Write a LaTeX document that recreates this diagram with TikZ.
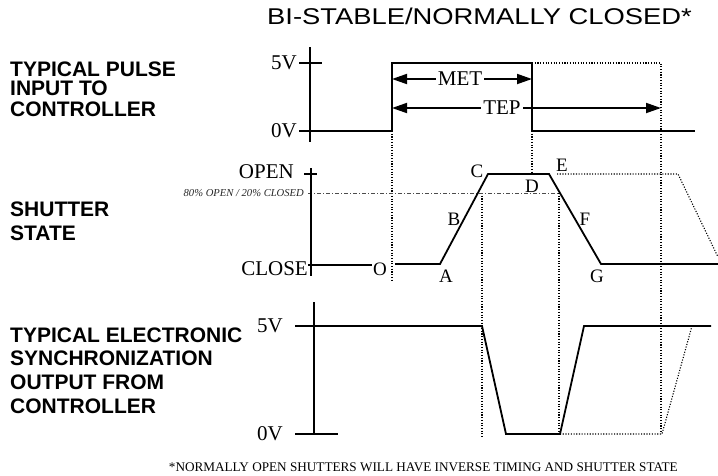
\documentclass[tikz,border=0pt]{standalone}
\usepackage{fontspec}
\setmainfont{Liberation Serif}
\setsansfont{Liberation Sans}
\usetikzlibrary{arrows.meta}
\begin{document}
\begin{tikzpicture}[x=1pt,y=-1pt,
  wave/.style={line width=1.8pt, line join=miter},
  guide/.style={line width=1.1pt, dash pattern=on 1.1pt off 1.6pt},
  level/.style={line width=0.8pt, black!70, dash pattern=on 4pt off 2pt on 1pt off 2pt},
  dim/.style={line width=1.8pt, {Triangle[length=15pt,width=10pt]}-{Triangle[length=15pt,width=10pt]}},
  blab/.style={font=\sffamily\bfseries\fontsize{21}{21}\selectfont, anchor=base west, inner sep=0pt},
  vlab/.style={font=\fontsize{21}{21}\selectfont, anchor=east, inner sep=0pt},
  plab/.style={font=\fontsize{19}{19}\selectfont, inner sep=0pt},
  dlab/.style={font=\fontsize{21}{21}\selectfont, fill=white, inner xsep=2pt, inner ysep=0pt}
]
\useasboundingbox (0,0) rectangle (718,475);

% ---------- title ----------
\node[inner sep=0pt] (title) at (479.5,16)
  {\scalebox{1.2}[1]{\sffamily\fontsize{22.8}{22.8}\selectfont BI-STABLE/NORMALLY CLOSED*}};

% ---------- left bold labels ----------
\node[blab] (l1a) at (10,76) {TYPICAL PULSE};
\node[blab] (l1b) at (10,95.5) {INPUT TO};
\node[blab] (l1c) at (10,116) {CONTROLLER};
\node[blab] (l2a) at (10,216) {SHUTTER};
\node[blab] (l2b) at (10,240) {STATE};
\node[blab] (l3a) at (10,342) {TYPICAL ELECTRONIC};
\node[blab] (l3b) at (10,365.5) {SYNCHRONIZATION};
\node[blab] (l3c) at (10,389) {OUTPUT FROM};
\node[blab] (l3d) at (10,413) {CONTROLLER};

% ---------- coordinates: pulse panel ----------
\coordinate (ax1t) at (310,47);
\coordinate (ax1b) at (310,142);
\coordinate (t5a) at (299,63);
\coordinate (t5b) at (322,63);
\coordinate (p0) at (299,131);
\coordinate (p1) at (392,131);
\coordinate (p2) at (392,63);
\coordinate (p3) at (532,63);
\coordinate (p4) at (532,131);
\coordinate (p5) at (695,131);
\coordinate (q1) at (661,63);
\coordinate (q2) at (661,433);
\coordinate (v1b) at (392,281);
\coordinate (v2b) at (532,174);
\coordinate (metL) at (392,79);
\coordinate (metR) at (532,79);
\coordinate (tepL) at (392,108);
\coordinate (tepR) at (661,108);

% ---------- coordinates: shutter panel ----------
\coordinate (ax2t) at (311,168);
\coordinate (ax2b) at (311,276);
\coordinate (toa) at (304,174);
\coordinate (tob) at (317,174);
\coordinate (s0) at (308,265);
\coordinate (s0b) at (372,265);
\coordinate (s1) at (395,264);
\coordinate (sA) at (440,264);
\coordinate (sC) at (488,174);
\coordinate (sE) at (549,174);
\coordinate (sG) at (601,264);
\coordinate (s2) at (718,264);
\coordinate (e1) at (557,174);
\coordinate (e2) at (678,174);
\coordinate (e3) at (718,257);
\coordinate (lv1) at (308,193);
\coordinate (lv2) at (560,193);
\coordinate (g1t) at (482,193);
\coordinate (g1b) at (482,438);
\coordinate (g2t) at (559,193);
\coordinate (g2b) at (559,434);

% ---------- coordinates: sync panel ----------
\coordinate (ax3t) at (314,302);
\coordinate (ax3b) at (314,434);
\coordinate (y0) at (295,326);
\coordinate (y1) at (482,326);
\coordinate (y2) at (506,434);
\coordinate (y3) at (560,434);
\coordinate (y4) at (584,326);
\coordinate (y5) at (711,326);
\coordinate (z0) at (295,434);
\coordinate (z1) at (338,434);
\coordinate (w1) at (662,434);
\coordinate (w2) at (692,326);

% ---------- guides ----------
\draw[guide] (p3) -- (q1) -- (q2);
\draw[guide] (p1) -- (v1b);
\draw[guide] (p4) -- (v2b);
\draw[guide] (e1) -- (e2) -- (e3);
\draw[guide] (g1t) -- (g1b);
\draw[guide] (g2t) -- (g2b);
\draw[guide] (y3) -- (w1) -- (w2);
\draw[level] (lv1) -- (lv2);

% ---------- pulse panel ----------
\draw[wave] (ax1t) -- (ax1b);
\draw[wave] (t5a) -- (t5b);
\draw[wave] (p0) -- (p1) -- (p2) -- (p3) -- (p4) -- (p5);
\draw[dim] (metL) -- (metR);
\draw[dim] (tepL) -- (tepR);
\node[dlab] (met) at (460,79) {MET};
\node[dlab] (tep) at (502,108) {TEP};
\node[vlab] (v5a) at (297,63) {5V};
\node[vlab] (v0a) at (297,131) {0V};

% ---------- shutter panel ----------
\draw[wave] (ax2t) -- (ax2b);
\draw[wave] (toa) -- (tob);
\draw[wave] (s0) -- (s0b);
\draw[wave] (s1) -- (sA) -- (sC) -- (sE) -- (sG) -- (s2);
\node[vlab] (open) at (294,172) {OPEN};
\node[vlab] (close) at (308,268.5) {CLOSE};
\node[vlab, font=\itshape\fontsize{10.6}{10.6}\selectfont, text=black!85] (pct) at (304,193) {80\% OPEN / 20\% CLOSED};
\node[plab] (lO) at (380,269) {O};
\node[plab] (lA) at (446,276) {A};
\node[plab] (lB) at (454,219) {B};
\node[plab] (lC) at (477,171) {C};
\node[plab] (lD) at (532,186) {D};
\node[plab] (lE) at (562,165) {E};
\node[plab] (lF) at (585,219) {F};
\node[plab] (lG) at (597,276) {G};

% ---------- sync panel ----------
\draw[wave] (ax3t) -- (ax3b);
\draw[wave] (z0) -- (z1);
\draw[wave] (y0) -- (y1) -- (y2) -- (y3) -- (y4) -- (y5);
\node[vlab] (v5b) at (283,326) {5V};
\node[vlab] (v0b) at (283,434) {0V};

% ---------- footnote ----------
\node[anchor=east, inner sep=0pt, font=\fontsize{13.2}{13.2}\selectfont] (foot) at (678,467)
  {*NORMALLY OPEN SHUTTERS WILL HAVE INVERSE TIMING AND SHUTTER STATE};
\end{tikzpicture}
\end{document}
